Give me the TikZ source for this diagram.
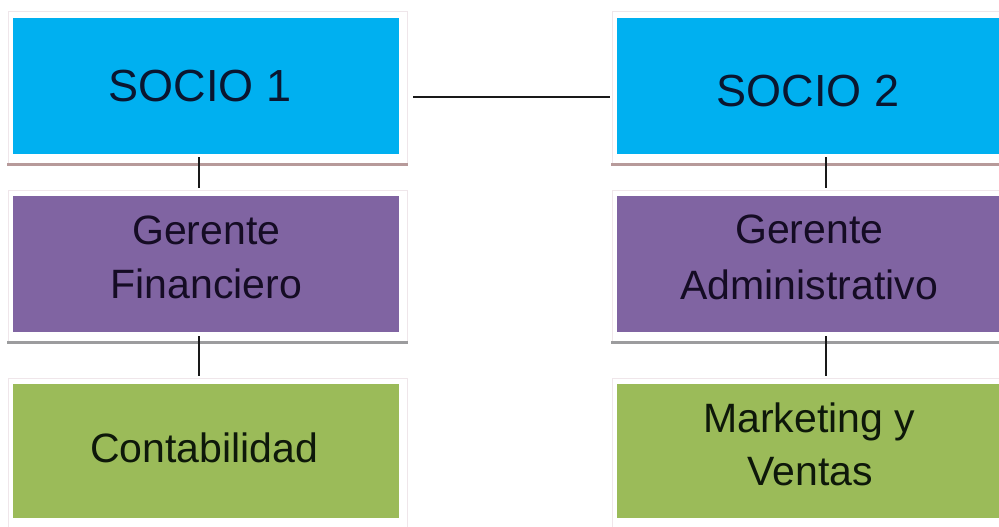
\documentclass[tikz,border=0pt]{standalone}
\usepackage{fontspec}
\setmainfont{Liberation Sans}
\usetikzlibrary{backgrounds}
\definecolor{socioblue}{HTML}{00B0F0}
\definecolor{mgrpurple}{HTML}{8064A2}
\definecolor{deptgreen}{HTML}{9BBB59}
\definecolor{framerim}{HTML}{EFE6EA}
\definecolor{shadowtop}{HTML}{B79A9A}
\definecolor{shadowmid}{HTML}{9C9C9E}
\definecolor{inkblue}{HTML}{0A1630}
\definecolor{inkpurple}{HTML}{150C24}
\definecolor{inkgreen}{HTML}{0E180A}
\begin{document}
\begin{tikzpicture}[x=1pt,y=-1pt,
  orgbox/.style={rectangle, draw=none, inner sep=0pt, anchor=north west,
    minimum width=386pt, minimum height=136pt},
  bigtext/.style={inner sep=0pt, anchor=base, font=\fontsize{45}{54}\selectfont, text=inkblue},
  midtext/.style={inner sep=0pt, anchor=base, font=\fontsize{41}{54}\selectfont, text=inkpurple},
  lowtext/.style={inner sep=0pt, anchor=base, font=\fontsize{41}{54}\selectfont, text=inkgreen},
  link/.style={draw=black!90, line width=1.7pt},
  frame/.style={fill=white, draw=framerim, line width=1pt}]

\useasboundingbox (0,0) rectangle (999,527);
\clip (0,0) rectangle (999,527);

% coloured boxes, one column per partner
\node[orgbox, fill=socioblue] (s1) at (13,18) {};
\node[orgbox, fill=socioblue] (s2) at (617,18) {};
\node[orgbox, fill=mgrpurple] (g1) at (13,196) {};
\node[orgbox, fill=mgrpurple] (g2) at (617,196) {};
\node[orgbox, fill=deptgreen, minimum height=134pt] (c1) at (13,384) {};
\node[orgbox, fill=deptgreen, minimum height=134pt] (c2) at (617,384) {};

% white frames with a shadow line under each box
\begin{scope}[on background layer]
  \fill[white] (0,0) rectangle (999,527);
  \foreach \b/\sc in {s1/shadowtop, s2/shadowtop, g1/shadowmid, g2/shadowmid, c1/shadowmid, c2/shadowmid}{
    \draw[frame] ([shift={(-5,-6)}]\b.north west) rectangle ([shift={(8,9)}]\b.south east);
    \draw[\sc, line width=3pt] ([shift={(-6,10)}]\b.south west) -- ([shift={(9,10)}]\b.south east);
  }
\end{scope}

% labels
\node[bigtext] (ts1) at ([shift={(-6,15)}]s1.center) {SOCIO 1};
\node[bigtext] (ts2) at ([shift={(-2,20)}]s2.center) {SOCIO 2};
\node[midtext] (tg1a) at ([shift={(0,-20)}]g1.center) {Gerente};
\node[midtext] (tg1b) at ([shift={(0,34)}]g1.center) {Financiero};
\node[midtext] (tg2a) at ([shift={(-1,-21)}]g2.center) {Gerente};
\node[midtext] (tg2b) at ([shift={(-1,35)}]g2.center) {Administrativo};
\node[lowtext] (tc1) at ([shift={(-2,11)}]c1.center) {Contabilidad};
\node[lowtext] (tc2a) at ([shift={(-1,-19)}]c2.center) {Marketing y};
\node[lowtext] (tc2b) at ([shift={(0,34)}]c2.center) {Ventas};

% connectors
\draw[link, shorten <=14pt, shorten >=7pt] ([yshift=-11pt]s1.east) -- ([yshift=-11pt]s2.west);
\draw[link, shorten <=3pt, shorten >=8pt] ([xshift=-7.5pt]s1.south) -- ([xshift=-7.5pt]g1.north);
\draw[link, shorten <=4pt, shorten >=8pt] ([xshift=-7.5pt]g1.south) -- ([xshift=-7.5pt]c1.north);
\draw[link, shorten <=3pt, shorten >=8pt] ([xshift=16pt]s2.south) -- ([xshift=16pt]g2.north);
\draw[link, shorten <=4pt, shorten >=8pt] ([xshift=16pt]g2.south) -- ([xshift=16pt]c2.north);
\end{tikzpicture}
\end{document}
